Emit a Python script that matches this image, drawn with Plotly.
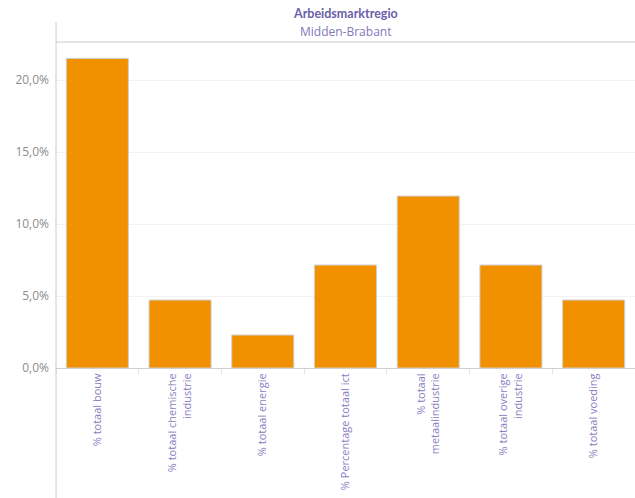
import plotly.graph_objects as go

categories = [
    "% totaal bouw",
    "% totaal chemische<br>industrie",
    "% totaal energie",
    "% Percentage totaal ict",
    "% totaal<br>metaalindustrie",
    "% totaal overige<br>industrie",
    "% totaal voeding",
]
values = [0.215, 0.0472, 0.0229, 0.0715, 0.1194, 0.0715, 0.0472]
y_ticks = [0, 0.05, 0.10, 0.15, 0.20]
header_title = "Arbeidsmarktregio"
header_sub = "Midden-Brabant"

FONT = "Open Sans"
fig = go.Figure()
fig.add_trace(go.Bar(
    x=categories, y=values,
    marker=dict(color="#F29100", line=dict(color="#cfcfcf", width=1)),
    width=0.75,
))

W, H = 635, 498
L, R, T, B = 56, 0, 42, 130
ph = H - T - B

fig.update_layout(
    width=W, height=H,
    margin=dict(l=L, r=R, t=T, b=B, pad=0),
    paper_bgcolor="white", plot_bgcolor="white",
    separators=",.",
    showlegend=False,
    font=dict(family=FONT, size=11, color="#888"),
    xaxis=dict(
        type="category", tickangle=-90,
        tickfont=dict(family=FONT, size=11, color="#8a80c2"),
        showgrid=False, showline=True, linecolor="#d0d0d0", linewidth=1,
        ticks="outside", tickson="boundaries", ticklen=5, tickcolor="#e6e6e6",
        fixedrange=True,
    ),
    yaxis=dict(
        range=[0, 0.2264], tickvals=y_ticks, tickformat=".1%",
        tickfont=dict(family=FONT, size=12, color="#8c8c8c"),
        showgrid=True, gridcolor="#f2f2f2", gridwidth=1,
        zeroline=False, showline=False, ticks="", ticklen=0,
        ticklabelstandoff=6, fixedrange=True,
    ),
    shapes=[
        dict(type="line", xref="paper", yref="paper", x0=0, x1=1,
             y0=1, y1=1, line=dict(color="#cccccc", width=1)),
        dict(type="line", xref="paper", yref="paper", x0=0, x1=0,
             y0=(H - B - 22) / ph, y1=-B / ph, line=dict(color="#cccccc", width=1)),
    ],
    annotations=[
        dict(text="<b>" + header_title + "</b>", xref="paper", yref="paper",
             x=0.5, y=(H - B - 13) / ph, showarrow=False, yanchor="middle",
             font=dict(family="Lato", size=12.5, color="#6a5fa8")),
        dict(text=header_sub, xref="paper", yref="paper",
             x=0.5, y=(H - B - 32) / ph, showarrow=False, yanchor="middle",
             font=dict(family=FONT, size=12, color="#8078bb")),
    ],
)

fig.write_html("out.html", config={"displayModeBar": False},
               post_script="document.body.style.margin='0';")
